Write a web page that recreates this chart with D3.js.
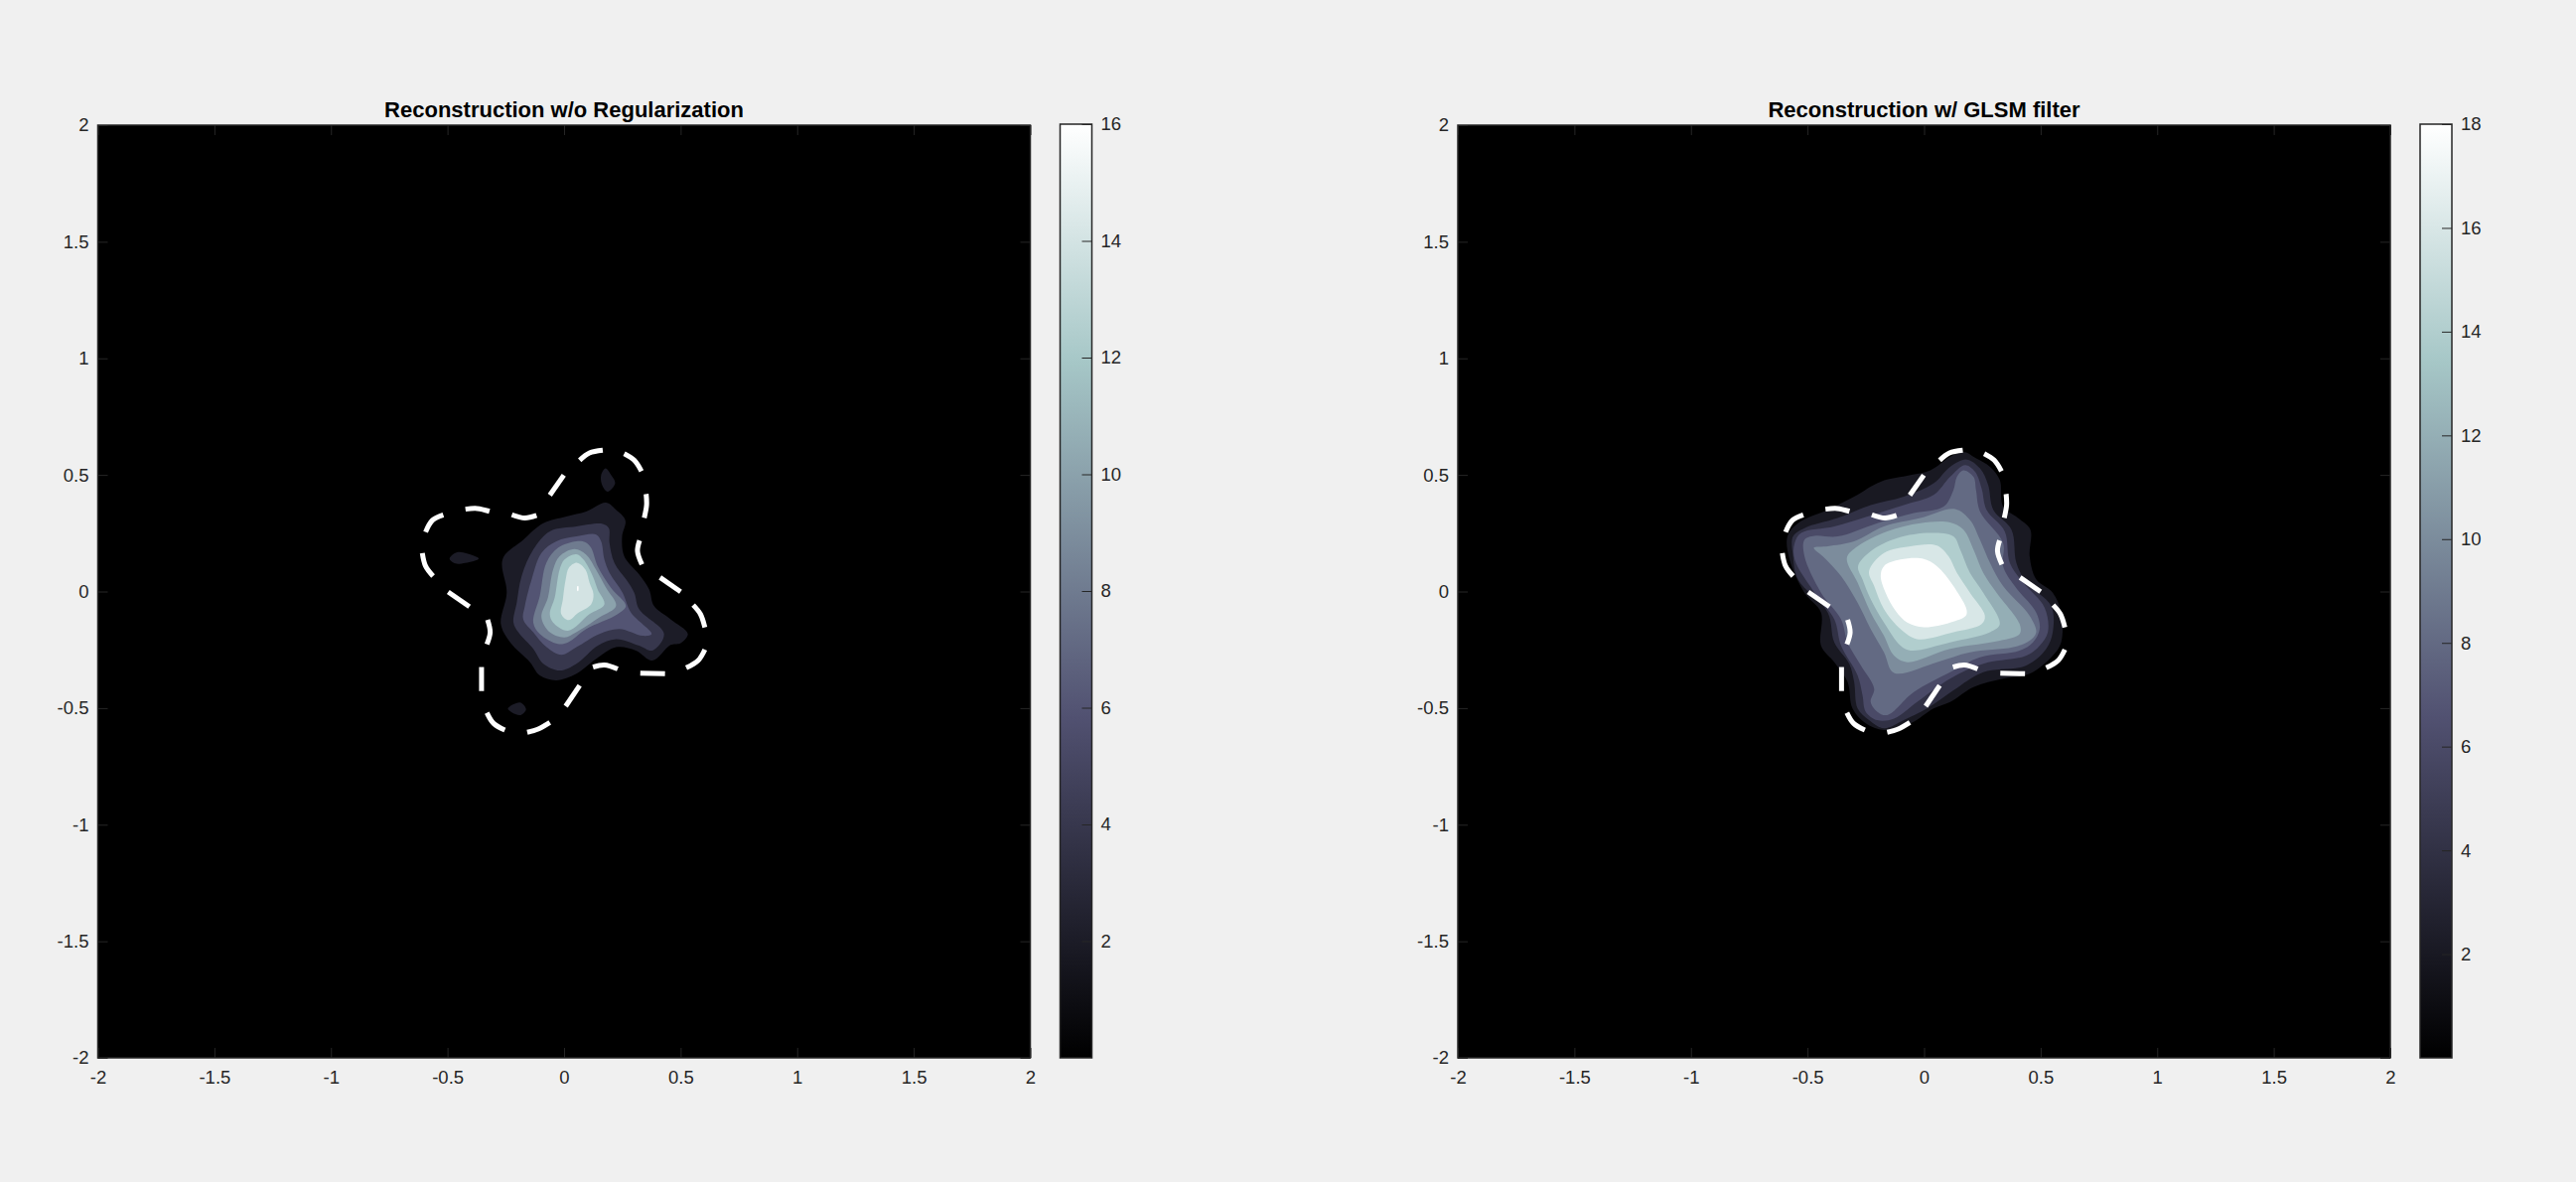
<!DOCTYPE html>
<html>
<head>
<meta charset="utf-8">
<script src="https://cdn.jsdelivr.net/npm/d3@7"></script>
<style>
  html, body { margin: 0; padding: 0; background: #f0f0f0; }
  svg { display: block; font-family: "Liberation Sans", Arial, sans-serif; }
</style>
</head>
<body>
<svg id="chart"></svg>
<script>
// Tick labels
const xyTicks = [-2, -1.5, -1, -0.5, 0, 0.5, 1, 1.5, 2];
const barTicksLeft = [2, 4, 6, 8, 10, 12, 14, 16];
const barTicksRight = [2, 4, 6, 8, 10, 12, 14, 16, 18];

// bone colormap anchors (fraction of colour range -> colour)
const boneStops = [0, 0.365, 0.746, 1];
const boneColors = ['#000000', '#515171', '#a6c7c7', '#ffffff'];

// True boundary of the object, one entry per visible dash (same in both panels)
const boundaryDashes = [
  [[0.067, 0.563], [0.109, 0.594], [0.166, 0.606]],
  [[0.258, 0.591], [0.301, 0.563], [0.332, 0.516]],
  [[0.352, 0.418], [0.354, 0.371], [0.344, 0.316]],
  [[0.324, 0.219], [0.315, 0.173], [0.334, 0.116]],
  [[0.412, 0.060], [0.500, -0.001]],
  [[0.554, -0.058], [0.585, -0.097], [0.604, -0.154]],
  [[0.604, -0.249], [0.575, -0.296], [0.524, -0.327]],
  [[0.433, -0.353], [0.327, -0.350]],
  [[0.230, -0.332], [0.173, -0.315], [0.124, -0.324]],
  [[0.067, -0.403], [0.007, -0.492]],
  [[-0.061, -0.562], [-0.111, -0.590], [-0.158, -0.604]],
  [[-0.254, -0.594], [-0.302, -0.566], [-0.331, -0.520]],
  [[-0.354, -0.427], [-0.354, -0.324]],
  [[-0.331, -0.226], [-0.317, -0.175], [-0.328, -0.121]],
  [[-0.406, -0.065], [-0.497, -0.002]],
  [[-0.562, 0.066], [-0.594, 0.109], [-0.608, 0.165]],
  [[-0.594, 0.255], [-0.565, 0.305], [-0.518, 0.329]],
  [[-0.423, 0.353], [-0.373, 0.356], [-0.320, 0.344]],
  [[-0.224, 0.329], [-0.168, 0.315], [-0.118, 0.326]],
  [[-0.061, 0.413], [-0.001, 0.499]]
];

// Left panel: filled contour outlines, level by level
const left2 = [[0.180,0.381],[0.223,0.350],[0.263,0.305],[0.249,0.236],[0.258,0.151],[0.322,0.073],[0.365,0.009],[0.386,-0.062],[0.457,-0.119],[0.531,-0.182],[0.500,-0.222],[0.457,-0.229],[0.379,-0.296],[0.308,-0.253],[0.223,-0.239],[0.138,-0.289],[0.053,-0.353],[-0.033,-0.381],[-0.104,-0.360],[-0.146,-0.303],[-0.231,-0.218],[-0.271,-0.140],[-0.246,-0.005],[-0.263,0.140],[-0.175,0.222],[-0.089,0.293],[0.010,0.322],[0.095,0.343]];
const left2IslandA = [[0.159,0.499],[0.178,0.528],[0.202,0.499],[0.219,0.464],[0.187,0.428],[0.163,0.457]];
const left2IslandB = [[-0.491,0.141],[-0.459,0.168],[-0.416,0.163],[-0.366,0.141],[-0.423,0.123],[-0.466,0.120]];
const left2IslandC = [[-0.241,-0.502],[-0.189,-0.476],[-0.163,-0.505],[-0.186,-0.530],[-0.224,-0.519]];
const left4 = [[0.166,0.290],[0.192,0.272],[0.195,0.208],[0.216,0.123],[0.266,0.052],[0.301,-0.005],[0.322,-0.076],[0.429,-0.182],[0.379,-0.253],[0.322,-0.232],[0.223,-0.204],[0.145,-0.232],[0.053,-0.310],[-0.018,-0.339],[-0.089,-0.310],[-0.132,-0.246],[-0.196,-0.175],[-0.217,-0.133],[-0.203,-0.048],[-0.182,0.066],[-0.132,0.180],[-0.061,0.258],[0.053,0.279]];
const left6 = [[0.138,0.244],[0.159,0.215],[0.173,0.137],[0.195,0.080],[0.251,-0.005],[0.287,-0.090],[0.376,-0.182],[0.337,-0.190],[0.237,-0.161],[0.152,-0.182],[0.053,-0.239],[-0.011,-0.272],[-0.075,-0.239],[-0.132,-0.175],[-0.175,-0.119],[-0.168,-0.062],[-0.139,0.052],[-0.097,0.165],[-0.033,0.215],[0.053,0.236]];
const left8 = [[0.052,0.215],[0.092,0.211],[0.116,0.187],[0.144,0.109],[0.201,0.016],[0.265,-0.062],[0.230,-0.097],[0.095,-0.161],[0.017,-0.218],[-0.026,-0.225],[-0.104,-0.182],[-0.132,-0.133],[-0.104,-0.019],[-0.076,0.123],[-0.026,0.187]];
const left10 = [[0.045,0.182],[0.095,0.158],[0.137,0.094],[0.180,0.016],[0.223,-0.062],[0.152,-0.111],[0.052,-0.175],[0.002,-0.197],[-0.061,-0.175],[-0.097,-0.111],[-0.069,-0.026],[-0.047,0.094],[-0.019,0.151]];
const left12 = [[0.052,0.160],[0.083,0.137],[0.123,0.066],[0.144,0.009],[0.173,-0.055],[0.109,-0.097],[0.017,-0.168],[-0.047,-0.133],[-0.061,-0.097],[-0.040,-0.026],[-0.019,0.094],[0.002,0.137]];
const left14 = [[0.056,0.123],[0.092,0.094],[0.109,0.038],[0.126,-0.012],[0.116,-0.055],[0.059,-0.093],[0.020,-0.123],[-0.012,-0.097],[-0.005,-0.033],[0.007,0.052],[0.021,0.102]];
const left16 = [[0.057,0.023],[0.061,0.023],[0.061,0.002],[0.057,0.002]];

// Right panel: filled contour outlines, level by level
const right2 = [[0.169,0.599],[0.226,0.570],[0.283,0.535],[0.325,0.478],[0.339,0.364],[0.403,0.315],[0.456,0.265],[0.453,0.151],[0.481,0.052],[0.552,-0.005],[0.588,-0.090],[0.588,-0.218],[0.552,-0.275],[0.453,-0.353],[0.339,-0.374],[0.212,-0.410],[0.112,-0.474],[0.041,-0.502],[-0.058,-0.566],[-0.172,-0.594],[-0.250,-0.566],[-0.307,-0.502],[-0.328,-0.388],[-0.385,-0.303],[-0.442,-0.232],[-0.442,-0.090],[-0.513,-0.005],[-0.577,0.137],[-0.586,0.236],[-0.541,0.293],[-0.413,0.350],[-0.300,0.407],[-0.186,0.471],[-0.058,0.499],[0.027,0.520],[0.112,0.577]];
const right4 = [[0.183,0.566],[0.240,0.528],[0.275,0.457],[0.297,0.350],[0.375,0.265],[0.396,0.123],[0.439,0.038],[0.545,-0.062],[0.552,-0.175],[0.524,-0.246],[0.439,-0.317],[0.254,-0.346],[0.126,-0.424],[0.013,-0.502],[-0.087,-0.552],[-0.172,-0.587],[-0.236,-0.552],[-0.285,-0.502],[-0.300,-0.388],[-0.321,-0.310],[-0.385,-0.218],[-0.413,-0.090],[-0.541,0.052],[-0.562,0.151],[-0.562,0.236],[-0.513,0.272],[-0.371,0.315],[-0.229,0.371],[-0.087,0.407],[0.041,0.464],[0.112,0.535]];
const right6 = [[0.176,0.542],[0.219,0.513],[0.247,0.442],[0.268,0.350],[0.346,0.258],[0.368,0.123],[0.425,0.038],[0.517,-0.069],[0.531,-0.175],[0.496,-0.232],[0.439,-0.275],[0.254,-0.310],[0.112,-0.374],[-0.030,-0.474],[-0.129,-0.545],[-0.200,-0.552],[-0.250,-0.516],[-0.264,-0.445],[-0.285,-0.360],[-0.356,-0.232],[-0.385,-0.119],[-0.470,-0.005],[-0.555,0.137],[-0.555,0.208],[-0.527,0.251],[-0.385,0.279],[-0.243,0.322],[-0.087,0.371],[0.041,0.414],[0.112,0.492]];
const right8 = [[0.169,0.520],[0.212,0.492],[0.223,0.435],[0.240,0.343],[0.339,0.208],[0.339,0.109],[0.389,0.023],[0.481,-0.090],[0.496,-0.161],[0.467,-0.218],[0.410,-0.253],[0.240,-0.282],[0.112,-0.346],[-0.044,-0.431],[-0.158,-0.530],[-0.200,-0.516],[-0.229,-0.474],[-0.214,-0.417],[-0.271,-0.317],[-0.328,-0.218],[-0.356,-0.119],[-0.442,-0.005],[-0.513,0.151],[-0.513,0.222],[-0.470,0.239],[-0.371,0.236],[-0.200,0.293],[-0.044,0.336],[0.084,0.364],[0.126,0.435],[0.141,0.492]];
const right10 = [[0.133,0.354],[0.197,0.307],[0.240,0.222],[0.283,0.123],[0.339,0.023],[0.453,-0.104],[0.481,-0.175],[0.453,-0.211],[0.382,-0.239],[0.197,-0.261],[0.055,-0.303],[-0.129,-0.349],[-0.172,-0.261],[-0.229,-0.161],[-0.285,-0.048],[-0.356,0.066],[-0.427,0.144],[-0.473,0.187],[-0.413,0.194],[-0.300,0.215],[-0.172,0.279],[-0.016,0.315]];
const right12 = [[-0.331,0.144],[-0.285,0.194],[-0.158,0.258],[-0.016,0.293],[0.112,0.296],[0.169,0.265],[0.212,0.180],[0.254,0.080],[0.311,-0.005],[0.410,-0.140],[0.410,-0.182],[0.325,-0.211],[0.112,-0.246],[-0.072,-0.303],[-0.129,-0.275],[-0.172,-0.190],[-0.229,-0.090],[-0.285,0.038]];
const right14 = [[-0.283,0.109],[-0.229,0.173],[-0.115,0.229],[0.027,0.251],[0.126,0.236],[0.155,0.180],[0.197,0.080],[0.254,-0.005],[0.325,-0.140],[0.283,-0.175],[0.112,-0.218],[-0.058,-0.253],[-0.101,-0.232],[-0.172,-0.133],[-0.229,-0.033],[-0.264,0.052]];
const right16 = [[-0.236,0.087],[-0.172,0.165],[-0.058,0.194],[0.055,0.197],[0.105,0.151],[0.141,0.080],[0.197,-0.005],[0.261,-0.104],[0.247,-0.140],[0.126,-0.175],[-0.030,-0.204],[-0.101,-0.161],[-0.172,-0.076],[-0.214,0.023]];
const right18 = [[-0.186,0.066],[-0.172,0.109],[-0.101,0.137],[-0.001,0.140],[0.055,0.109],[0.126,0.023],[0.183,-0.097],[0.112,-0.133],[-0.001,-0.153],[-0.072,-0.133],[-0.122,-0.083],[-0.165,-0.005]];

// [contour level, outline]; drawn low to high
const leftContours = [[2, left2], [2, left2IslandA], [2, left2IslandB], [2, left2IslandC], [4, left4], [6, left6], [8, left8], [10, left10], [12, left12], [14, left14], [16, left16]];
const rightContours = [[2, right2], [4, right4], [6, right6], [8, right8], [10, right10], [12, right12], [14, right14], [16, right16], [18, right18]];

const width = 2594, height = 1190;
const inkColor = '#262626';

const svg = d3.select('#chart').attr('width', width).attr('height', height);
const defs = svg.append('defs');

const bone = d3.scaleLinear().domain(boneStops).range(boneColors);

function drawAxis(g, axis, fontSize) {
  g.call(axis);
  g.select('.domain').remove();
  g.selectAll('.tick line').attr('stroke', inkColor).attr('stroke-width', 1);
  g.selectAll('.tick text')
    .attr('fill', inkColor)
    .style('font-family', '"Liberation Sans", Arial, sans-serif')
    .style('font-size', fontSize + 'px');
}

function drawPanel(id, left, title, contours, barTicks, barMax) {
  const top = 126, size = 939;
  const x = d3.scaleLinear().domain([-2, 2]).range([left, left + size]);
  const y = d3.scaleLinear().domain([-2, 2]).range([top + size, top]);
  const colorOf = v => bone(v / barMax);
  const outline = d3.line().x(d => x(d[0])).y(d => y(d[1])).curve(d3.curveCatmullRomClosed.alpha(0.5));

  const g = svg.append('g').attr('id', id);
  g.append('rect')
    .attr('x', left).attr('y', top).attr('width', size).attr('height', size)
    .attr('fill', '#000');

  g.selectAll('path.band')
    .data(contours)
    .enter().append('path')
    .attr('class', 'band')
    .attr('fill', d => colorOf(d[0]))
    .attr('d', d => outline(d[1]));

  const dashLine = d3.line().x(d => x(d[0])).y(d => y(d[1])).curve(d3.curveCatmullRom.alpha(0.5));
  g.selectAll('path.dash')
    .data(boundaryDashes)
    .enter().append('path')
    .attr('class', 'dash')
    .attr('fill', 'none')
    .attr('stroke', '#fff')
    .attr('stroke-width', 5)
    .attr('d', dashLine);

  // axes, MATLAB style: ticks point inwards, mirrored on all four sides
  const tickLen = 10, fontSize = 18.5;
  const plain = d => String(d);
  const bottomAxis = d3.axisBottom(x).tickValues(xyTicks).tickFormat(plain).tickSizeInner(-tickLen).tickSizeOuter(0).tickPadding(13);
  const leftAxis = d3.axisLeft(y).tickValues(xyTicks).tickFormat(plain).tickSizeInner(-tickLen).tickSizeOuter(0).tickPadding(9);
  drawAxis(g.append('g').attr('transform', `translate(0,${top + size})`), bottomAxis, fontSize);
  drawAxis(g.append('g').attr('transform', `translate(${left},0)`), leftAxis, fontSize);
  drawAxis(g.append('g').attr('transform', `translate(0,${top})`),
    d3.axisTop(x).tickValues(xyTicks).tickFormat('').tickSizeInner(-tickLen).tickSizeOuter(0), fontSize);
  drawAxis(g.append('g').attr('transform', `translate(${left + size},0)`),
    d3.axisRight(y).tickValues(xyTicks).tickFormat('').tickSizeInner(-tickLen).tickSizeOuter(0), fontSize);

  g.append('rect')
    .attr('x', left).attr('y', top).attr('width', size).attr('height', size)
    .attr('fill', 'none').attr('stroke', inkColor).attr('stroke-width', 1.5);

  g.append('text')
    .attr('x', left + size / 2).attr('y', 118)
    .attr('text-anchor', 'middle')
    .attr('fill', '#000')
    .style('font-size', '22px')
    .style('font-weight', 'bold')
    .text(title);

  // colorbar
  const barLeft = left + size + 30, barWidth = 32;
  const barScale = d3.scaleLinear().domain([0, barMax]).range([top + size, top - 1]);
  const grad = defs.append('linearGradient')
    .attr('id', id + '-bar')
    .attr('x1', 0).attr('y1', 1).attr('x2', 0).attr('y2', 0);
  grad.selectAll('stop')
    .data(boneStops)
    .enter().append('stop')
    .attr('offset', d => d)
    .attr('stop-color', d => bone(d));
  g.append('rect')
    .attr('x', barLeft).attr('y', top - 1).attr('width', barWidth).attr('height', size + 1)
    .attr('fill', `url(#${id}-bar)`)
    .attr('stroke', inkColor).attr('stroke-width', 1.5);
  const barAxis = d3.axisRight(barScale).tickValues(barTicks).tickSizeInner(-tickLen).tickSizeOuter(0).tickPadding(9);
  drawAxis(g.append('g').attr('transform', `translate(${barLeft + barWidth},0)`), barAxis, fontSize);
}

drawPanel('left', 98.5, 'Reconstruction w/o Regularization', leftContours, barTicksLeft, 16);
drawPanel('right', 1468, 'Reconstruction w/ GLSM filter', rightContours, barTicksRight, 18);
</script>
</body>
</html>
